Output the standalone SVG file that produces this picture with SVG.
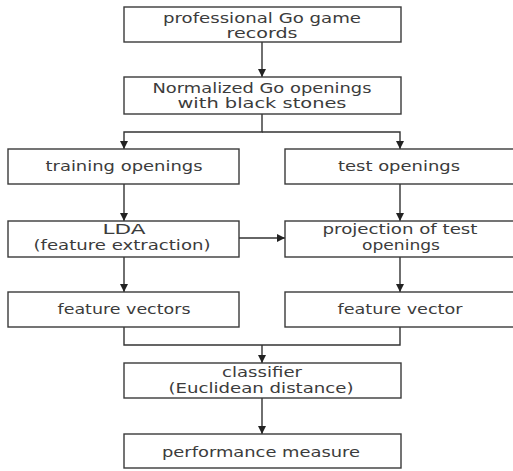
<svg xmlns="http://www.w3.org/2000/svg" width="513" height="471" viewBox="0 0 513 471">
<style>
.box{fill:#fff;stroke:#3a3a3a;stroke-width:1.4}
.ln{fill:none;stroke:#333;stroke-width:1.4}
text{font-family:"DejaVu Sans","Liberation Sans",sans-serif;font-size:14px;fill:#3c3c3c;text-anchor:middle}
</style>
<defs>
<marker id="ah" viewBox="0 0 10 10" refX="10" refY="5" markerWidth="8" markerHeight="8" markerUnits="userSpaceOnUse" orient="auto">
<path d="M0,0 L10,5 L0,10 z" fill="#222"/>
</marker>
</defs>
<rect width="513" height="471" fill="#fff"/>
<g id="connectors">
<path class="ln" d="M262,42 V77" marker-end="url(#ah)"/>
<path class="ln" d="M262,114 V132 H124 V149" marker-end="url(#ah)"/>
<path class="ln" d="M262,132 H400 V149" marker-end="url(#ah)"/>
<path class="ln" d="M124,184 V221" marker-end="url(#ah)"/>
<path class="ln" d="M400,184 V221" marker-end="url(#ah)"/>
<path class="ln" d="M239,238 H285" marker-end="url(#ah)"/>
<path class="ln" d="M124,257 V292" marker-end="url(#ah)"/>
<path class="ln" d="M400,257 V292" marker-end="url(#ah)"/>
<path class="ln" d="M124,327 V345 H400 V327"/>
<path class="ln" d="M262,345 V363" marker-end="url(#ah)"/>
<path class="ln" d="M262,398 V434" marker-end="url(#ah)"/>
</g>
<g id="n1"><rect class="box" x="124" y="7" width="277" height="35"/>
<text x="262" y="23" textLength="198" lengthAdjust="spacingAndGlyphs">professional Go game</text>
<text x="262" y="38" textLength="71" lengthAdjust="spacingAndGlyphs">records</text></g>
<g id="n2"><rect class="box" x="124" y="77" width="277" height="37"/>
<text x="262" y="93" textLength="219" lengthAdjust="spacingAndGlyphs">Normalized Go openings</text>
<text x="262" y="108" textLength="169" lengthAdjust="spacingAndGlyphs">with black stones</text></g>
<g id="n3"><rect class="box" x="8" y="149" width="231" height="35"/>
<text x="124" y="171" textLength="157" lengthAdjust="spacingAndGlyphs">training openings</text></g>
<g id="n4"><rect class="box" x="285" y="149" width="232" height="35"/>
<text x="399" y="171" textLength="122" lengthAdjust="spacingAndGlyphs">test openings</text></g>
<g id="n5"><rect class="box" x="8" y="221" width="231" height="36"/>
<text x="124" y="234" textLength="43" lengthAdjust="spacingAndGlyphs">LDA</text>
<text x="122" y="250" textLength="177" lengthAdjust="spacingAndGlyphs">(feature extraction)</text></g>
<g id="n6"><rect class="box" x="285" y="221" width="232" height="36"/>
<text x="400" y="234" textLength="155" lengthAdjust="spacingAndGlyphs">projection of test</text>
<text x="401" y="250" textLength="78" lengthAdjust="spacingAndGlyphs">openings</text></g>
<g id="n7"><rect class="box" x="8" y="292" width="231" height="35"/>
<text x="124" y="314" textLength="133" lengthAdjust="spacingAndGlyphs">feature vectors</text></g>
<g id="n8"><rect class="box" x="285" y="292" width="232" height="35"/>
<text x="400" y="314" textLength="125" lengthAdjust="spacingAndGlyphs">feature vector</text></g>
<g id="n9"><rect class="box" x="124" y="363" width="277" height="35"/>
<text x="262" y="377" textLength="80" lengthAdjust="spacingAndGlyphs">classifier</text>
<text x="261" y="393" textLength="185" lengthAdjust="spacingAndGlyphs">(Euclidean distance)</text></g>
<g id="n10"><rect class="box" x="124" y="434" width="277" height="34"/>
<text x="261" y="457" textLength="198" lengthAdjust="spacingAndGlyphs">performance measure</text></g>
</svg>
